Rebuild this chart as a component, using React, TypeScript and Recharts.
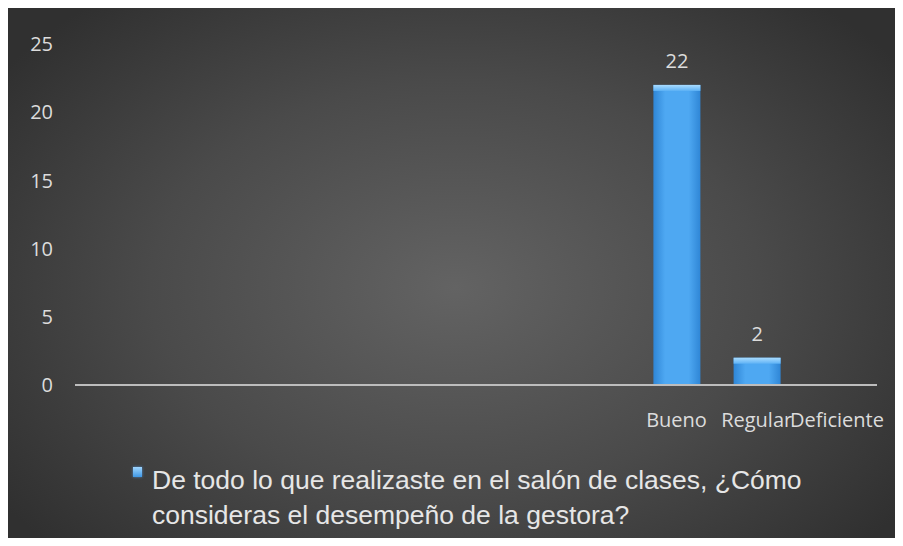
import { BarChart, Bar, XAxis, YAxis, Legend, LabelList } from 'recharts';

// Categories (the first seven are empty slots in the original chart)
const categories = ['', '', '', '', '', '', '', 'Bueno', 'Regular', 'Deficiente'];
const values: (number | null)[] = [null, null, null, null, null, null, null, 22, 2, null];
const yTicks = [0, 5, 10, 15, 20, 25];
const seriesName =
  'De todo lo que realizaste en el salón de clases, ¿Cómo consideras el desempeño de la gestora?';

const data = categories.map((label, i) => ({ label, value: values[i] }));

const textColor = '#dcdcdc';
const tickFont = { fill: textColor, fontSize: 20, fontFamily: '"Open Sans", sans-serif' };

const BevelBar = (props: any) => {
  const { x, y, width, height } = props;
  if (!height || height <= 0) return null;
  return (
    <g>
      <rect x={x} y={y} width={width} height={height} fill="url(#barFill)" />
      <rect x={x} y={y} width={width} height={Math.min(6, height)} fill="url(#barTop)" />
    </g>
  );
};

const LegendContent = (props: any) => {
  const item = props.payload && props.payload[0];
  if (!item) return null;
  return (
    <div style={{ position: 'relative', paddingLeft: 22 }}>
      <span
        style={{
          position: 'absolute',
          left: 3,
          top: 4,
          width: 9,
          height: 10,
          background: 'linear-gradient(#9fd6ff, #3f98e6)',
          boxShadow: '0 0 3px rgba(90,170,255,0.7)',
        }}
      />
      <div
        style={{
          width: 700,
          color: '#e6e6e6',
          fontFamily: '"Liberation Sans", Arial, sans-serif',
          fontSize: 26.5,
          lineHeight: '35px',
        }}
      >
        {item.value}
      </div>
    </div>
  );
};

export default function App() {
  return (
    <div style={{ position: 'relative', width: 903, height: 546, margin: -8, background: '#fff' }}>
      <div style={{ position: 'absolute', left: 10, top: 0, width: 1, height: 7, background: '#111' }} />
      <div
        style={{
          position: 'absolute',
          left: 8,
          top: 7,
          width: 895,
          height: 539,
          borderTop: '1px solid #222',
          boxSizing: 'border-box',
          background:
            'radial-gradient(ellipse 62% 70% at 50% 52%, #636363 0%, #4a4a4a 55%, #303030 100%)',
        }}
      >
        <BarChart
          width={895}
          height={539}
          data={data}
          margin={{ top: 37, right: 26, left: 7, bottom: 131 }}
          style={{ position: 'absolute', left: 0, top: -1 }}
        >
          <defs>
            <linearGradient id="barFill" x1="0" y1="0" x2="1" y2="0">
              <stop offset="0%" stopColor="#2f86d6" />
              <stop offset="25%" stopColor="#4ea8f2" />
              <stop offset="75%" stopColor="#4ea8f2" />
              <stop offset="100%" stopColor="#2f86d6" />
            </linearGradient>
            <linearGradient id="barTop" x1="0" y1="0" x2="0" y2="1">
              <stop offset="0%" stopColor="#a9dcff" />
              <stop offset="100%" stopColor="#5eb2f5" />
            </linearGradient>
          </defs>
          <XAxis
            dataKey="label"
            interval={0}
            tickLine={false}
            tickSize={6}
            tickMargin={22}
            axisLine={{ stroke: '#bdbdbd', strokeWidth: 2 }}
            tick={tickFont}
          />
          <YAxis
            width={60}
            domain={[0, 25]}
            ticks={yTicks}
            axisLine={false}
            tickLine={false}
            tickSize={6}
            tickMargin={16}
            tick={tickFont}
          />
          <Legend
            layout="horizontal"
            verticalAlign="middle"
            align="center"
            wrapperStyle={{ left: 122, top: 456, width: 740 }}
            content={<LegendContent />}
          />
          <Bar
            dataKey="value"
            name={seriesName}
            fill="#4ea8f2"
            barSize={47}
            shape={<BevelBar />}
            isAnimationActive={false}
          >
            <LabelList dataKey="value" position="top" offset={17} style={tickFont} fill={textColor} />
          </Bar>
        </BarChart>
      </div>
    </div>
  );
}
